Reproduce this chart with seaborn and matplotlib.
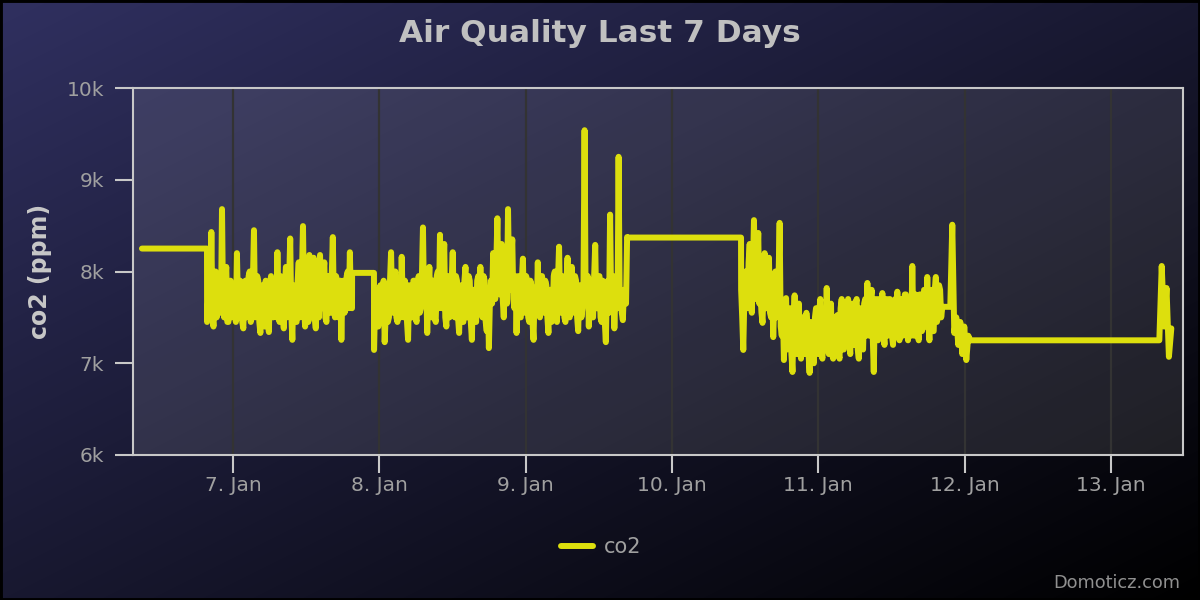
import numpy as np
import pandas as pd
import matplotlib
matplotlib.use("Agg")
import matplotlib.pyplot as plt
import matplotlib.dates as mdates
from matplotlib.patches import Rectangle
import seaborn as sns

# ---------------- data ----------------
title = "Air Quality Last 7 Days"
y_label = "co2 (ppm)"
series_name = "co2"
credit = "Domoticz.com"
y_ticks = [6000, 7000, 8000, 9000, 10000]
y_tick_labels = ["6k", "7k", "8k", "9k", "10k"]

# segment time bounds (start, end) -- readings within a segment are evenly spaced
seg_bounds = [
    ("2015-01-06 09:04", "2015-01-06 19:44"),
    ("2015-01-06 19:45", "2015-01-07 19:31"),
    ("2015-01-07 19:32", "2015-01-07 23:07"),
    ("2015-01-07 23:08", "2015-01-09 16:38"),
    ("2015-01-09 16:39", "2015-01-10 11:19"),
    ("2015-01-10 11:20", "2015-01-11 20:19"),
    ("2015-01-11 20:20", "2015-01-11 21:37"),
    ("2015-01-11 21:38", "2015-01-12 00:55"),
    ("2015-01-12 00:56", "2015-01-13 07:54"),
    ("2015-01-13 07:55", "2015-01-13 09:53"),
]

flat_1 = [8250, 8250]
noisy_a = [
    7450, 7700, 7800, 7500, 8430, 7550, 7400, 7850, 8000, 7500, 7600, 7950, 7900, 7550, 8680, 7600, 7500, 7900, 8050, 7450,
    7450, 7850, 7900, 7500, 7550, 7800, 7850, 7450, 8200, 7650, 7500, 7900, 7800, 7450, 7380, 7850, 7900, 7500, 7600, 7950,
    8000, 7450, 7550, 7900, 8450, 7500, 7600, 7950, 7900, 7450, 7330, 7800, 7850, 7500, 7400, 7900, 7750, 7450, 7340, 7850,
    7950, 7550, 7500, 7900, 7900, 7500, 8210, 7600, 7450, 7950, 7900, 7500, 7380, 7850, 8050, 7500, 7600, 7900, 8360, 7550,
    7255, 7850, 7800, 7450, 7450, 7900, 8100, 7500, 7550, 7950, 8495, 7600, 7400, 7900, 7950, 7450, 8180, 7600, 7500, 7950,
    8150, 7500, 7380, 7900, 7900, 7500, 8180, 7650, 7600, 7950, 8100, 7500, 7450, 7900, 7950, 7550, 7550, 7950, 8375, 7600,
    7500, 7950, 7900, 7500, 7650, 7900, 7255, 7800, 7900, 7550, 7600, 7950, 8000, 7600, 8210, 7650, 7600]
flat_2 = [7985, 7985]
noisy_b = [
    7145, 7700, 7600, 7450, 7400, 7800, 7850, 7500, 7450, 7900, 7230, 7550, 7800, 7450, 7500, 7900, 8210, 7600, 7550, 7950,
    8000, 7500, 7450, 7850, 7900, 7500, 8160, 7650, 7500, 7900, 7800, 7450, 7255, 7850, 7750, 7500, 7500, 7900, 7900, 7500,
    7450, 7850, 7950, 7550, 7600, 7950, 8480, 7650, 7700, 7900, 7330, 7800, 8050, 7550, 7500, 7900, 7900, 7500, 7450, 7950,
    8000, 7600, 8400, 7700, 7600, 8050, 8300, 7500, 7400, 7900, 7950, 7500, 7550, 7900, 8210, 7600, 7500, 7950, 7900, 7500,
    7330, 7800, 7850, 7450, 7450, 7900, 8050, 7500, 7500, 7950, 7900, 7450, 7255, 7800, 7800, 7500, 7450, 7900, 7950, 7550,
    8050, 7600, 7500, 7950, 7900, 7450, 7350, 7800, 7165, 7700, 7900, 7650, 8200, 7750, 7700, 8100, 8580, 7800, 7750, 8050,
    8300, 7700, 7500, 7950, 8100, 7650, 8680, 7900, 7800, 8150, 8350, 7700, 7600, 7950, 7330, 7800, 7950, 7500, 7500, 7900,
    8140, 7600, 7550, 7950, 7900, 7500, 7450, 7900, 7850, 7450, 7255, 7800, 7800, 7550, 8100, 7600, 7500, 7950, 7950, 7550,
    7600, 7900, 7850, 7500, 7330, 7800, 7800, 7450, 7500, 7950, 8000, 7500, 7450, 7900, 8270, 7600, 7550, 7950, 7900, 7500,
    7450, 7900, 8150, 7550, 7500, 7950, 8050, 7550, 7600, 7950, 7900, 7500, 7350, 7850, 7800, 7500, 7600, 7900, 9540, 7650,
    7700, 7950, 7400, 7850, 7900, 7500, 7500, 7950, 8290, 7600, 7600, 7950, 7950, 7500, 7450, 7900, 7800, 7450, 7230, 7850,
    7900, 7550, 8620, 7650, 7600, 7950, 7380, 7800, 7900, 7600, 9250, 7700, 7800, 7550, 7470, 7800, 7700, 7650, 8375]
flat_3 = [8370, 8370]
noisy_c = [
    7800, 7500, 7145, 7700, 8000, 7650, 7600, 8100, 8300, 7700, 7550, 8000, 8560, 7800, 7700, 8100, 8420, 7650, 7800, 7550,
    7440, 7900, 8200, 7600, 7600, 8000, 8150, 7550, 7500, 7850, 7285, 7700, 8000, 7500, 7600, 7950, 8530, 7400, 7300, 7600,
    7035, 7500, 7710, 7150, 7200, 7550, 7600, 7100, 6905, 7450, 7740, 7200, 7100, 7550, 7650, 7150, 7050, 7500, 7500, 7100,
    7150, 7550, 7400, 7100, 6895, 7450, 7340, 7050, 7000, 7500, 7600, 7150, 7100, 7550, 7700, 7100, 7050, 7450, 7500, 7150,
    7820, 7200, 7100, 7550, 7650, 7100, 7050, 7500, 7400, 7150, 7525, 7100, 7050, 7600, 7700, 7150, 7150, 7550, 7650, 7200,
    7700, 7250, 7100, 7600, 7650, 7200, 7200, 7650, 7700, 7150, 7050, 7550, 7600, 7200, 7150, 7650, 7700, 7300, 7875, 7350,
    7300, 7700, 7800, 7300, 6905, 7600, 7700, 7300, 7250, 7700, 7650, 7300, 7765, 7350, 7200, 7650, 7700, 7300, 7350, 7700,
    7600, 7300, 7200, 7650, 7700, 7350, 7780, 7400, 7250, 7700, 7700, 7300, 7350, 7750, 7750, 7350, 7250, 7700, 7650, 7300,
    8060, 7400, 7300, 7750, 7700, 7350, 7250, 7750, 7750, 7350, 7400, 7800, 7800, 7400, 7940, 7450, 7250, 7750, 7800, 7350,
    7350, 7800, 7940, 7450, 7500, 7850, 7800, 7500, 7615]
flat_4 = [7615, 7615]
noisy_d = [7615, 8510, 7330, 7500, 7200, 7450, 7100, 7400, 7035, 7300, 7255]
flat_5 = [7250, 7250]
noisy_e = [7250, 8060, 7400, 7820, 7070, 7380]

seg_values = [flat_1, noisy_a, flat_2, noisy_b, flat_3,
              noisy_c, flat_4, noisy_d, flat_5, noisy_e]

frames = []
for (start, end), vals in zip(seg_bounds, seg_values):
    t = pd.date_range(start, end, periods=len(vals))
    frames.append(pd.DataFrame({"time": t, "co2": vals}))
df = pd.concat(frames, ignore_index=True)

# ---------------- style ----------------
sns.set_style("white")
plt.rcParams["font.family"] = ["DejaVu Sans"]

W, H = 1200, 600
fig = plt.figure(figsize=(12, 6), dpi=100)
fig.patch.set_facecolor("black")

# background diagonal gradient rgb(48,48,96) -> black
bg = fig.add_axes([0, 0, 1, 1])
bg.set_zorder(0)
u = np.linspace(0, 1, W)[None, :]
v = np.linspace(0, 1, H)[:, None]
tt = (u + v) / 2.0
c0 = np.array([48, 48, 96]) / 255.0
grad = (1 - tt)[..., None] * c0[None, None, :]
bg.imshow(grad, extent=[0, 1, 0, 1], aspect="auto", origin="upper")
bg.set_axis_off()
fig.patches.append(Rectangle((0, 0), 1, 1, transform=fig.transFigure,
                             fill=False, edgecolor="black", linewidth=3.5,
                             zorder=10))

ax = fig.add_axes([133 / W, 1 - 455 / H, (1183 - 133) / W, (455 - 88) / H])
ax.set_zorder(1)
ax.set_facecolor((1, 1, 1, 0.1))

sns.lineplot(data=df, x="time", y="co2", ax=ax, color="#DDDF0D",
             linewidth=4.3, estimator=None, sort=False, label=series_name,
             solid_joinstyle="round", solid_capstyle="round")

ax.set_xlim(pd.Timestamp("2015-01-06 07:36"), pd.Timestamp("2015-01-13 11:48"))
ax.set_ylim(6000, 10000)
ax.set_yticks(y_ticks)
ax.set_yticklabels(y_tick_labels)
ax.xaxis.set_major_locator(mdates.DayLocator())
ax.xaxis.set_major_formatter(mdates.DateFormatter("%-d. %b"))

ax.grid(axis="x", color="#333333", linewidth=1.6)
ax.grid(axis="y", visible=False)
ax.set_axisbelow(True)

for s in ax.spines.values():
    s.set_color("#C8C8C8")
    s.set_linewidth(1.5)

ax.tick_params(axis="both", colors="#C8C8C8", length=13, width=1.5,
               direction="out", labelsize=14.5, labelcolor="#A0A0A0")
ax.tick_params(axis="y", pad=8)
ax.tick_params(axis="x", pad=2)
ax.tick_params(left=True, bottom=True)

ax.set_xlabel("")
ax.set_ylabel(y_label, color="#C8C8C8", fontsize=17, fontweight="bold")
ax.yaxis.set_label_coords(-0.077, 0.5)

fig.text(0.5, 1 - 33 / H, title, ha="center", va="center", color="#C0C0C0",
         fontsize=22.5, fontweight="bold")

leg = ax.legend(loc="center", bbox_to_anchor=(601 / W, 1 - 547 / H),
                bbox_transform=fig.transFigure, frameon=False,
                fontsize=15, labelcolor="#A0A0A0", handlelength=1.55,
                handletextpad=0.5)
for line in leg.get_lines():
    line.set_linewidth(4.3)

fig.text(1180 / W, 1 - 583 / H, credit, ha="right", va="center",
         color="#909090", fontsize=12.8)

fig.savefig("out.png", dpi=100, facecolor=fig.get_facecolor())
